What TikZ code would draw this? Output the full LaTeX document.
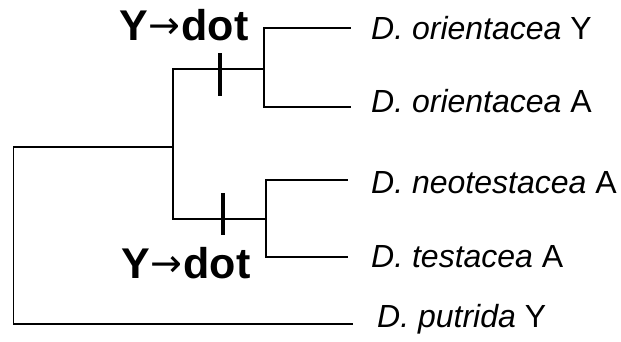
\documentclass[tikz,border=0pt]{standalone}
\usepackage{fontspec}
\setmainfont{Liberation Sans}
\newfontfamily\arrowfont{DejaVu Sans}
\begin{document}
\begin{tikzpicture}[x=1pt,y=-1pt,
  branch/.style={line width=1.7pt, line cap=rect},
  mut/.style={line width=4pt},
  leaf/.style={inner sep=0pt, anchor=base west, font=\fontsize{32}{32}\selectfont},
  evt/.style={inner sep=0pt, anchor=base west, font=\fontsize{43}{43}\selectfont\bfseries}]
\useasboundingbox (0,0) rectangle (621,341);
% internal nodes
\coordinate (root) at (13.5,147);
\coordinate (rootb) at (13.5,324);
\coordinate (in) at (173,147);
\coordinate (inU) at (173,69);
\coordinate (inL) at (173,219);
\coordinate (cU) at (264,69);
\coordinate (cUt) at (264,28);
\coordinate (cUb) at (264,107);
\coordinate (cL) at (266,219);
\coordinate (cLt) at (266,180);
\coordinate (cLb) at (266,257);
% leaf line ends
\coordinate (e1) at (350,28);
\coordinate (e2) at (350,107);
\coordinate (e3) at (347,180);
\coordinate (e4) at (347,257);
\coordinate (e5) at (352,324);
% labels
\node[leaf] (l1) at (371,39.5) {\textit{D. orientacea} Y};
\node[leaf] (l2) at (371,112) {\textit{D. orientacea} A};
\node[leaf] (l3) at (371,193) {\textit{D. neotestacea} A};
\node[leaf] (l4) at (371,267) {\textit{D. testacea} A};
\node[leaf] (l5) at (377,327) {\textit{D. putrida} Y};
\node[evt] (m1) at (119,40) {Y\kern1pt\raisebox{1.5pt}{\arrowfont\mdseries\fontsize{38}{38}\selectfont→}\kern1pt dot};
\node[evt] (m2) at (121,278) {Y\kern1pt\raisebox{1.5pt}{\arrowfont\mdseries\fontsize{38}{38}\selectfont→}\kern1pt dot};
% tree
\draw[branch] (rootb) -- (root) -- (in);
\draw[branch] (inU) -- (inL);
\draw[branch] (inU) -- (cU);
\draw[branch] (inL) -- (cL);
\draw[branch] (cUt) -- (cUb);
\draw[branch] (cLt) -- (cLb);
\draw[branch] (cUt) -- (e1);
\draw[branch] (cUb) -- (e2);
\draw[branch] (cLt) -- (e3);
\draw[branch] (cLb) -- (e4);
\draw[branch] (rootb) -- (e5);
% mutation ticks
\coordinate (t1a) at (220,53);
\coordinate (t1b) at (220,96);
\coordinate (t2a) at (223,193);
\coordinate (t2b) at (223,235);
\draw[mut] (t1a) -- (t1b);
\draw[mut] (t2a) -- (t2b);
\end{tikzpicture}
\end{document}
